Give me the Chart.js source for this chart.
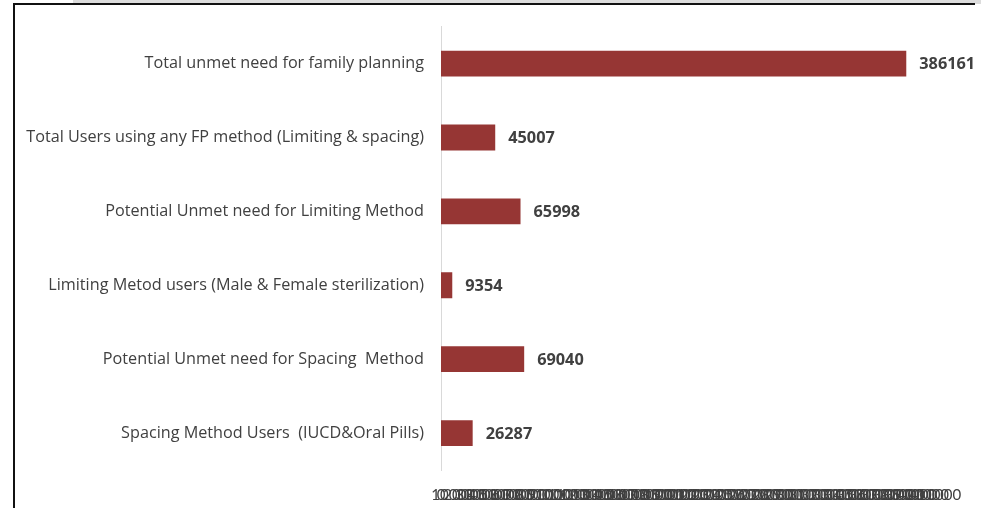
<!DOCTYPE html>
<html>
<head>
<meta charset="utf-8">
<script src="https://cdn.jsdelivr.net/npm/chart.js@4"></script>
<style>
html,body{margin:0;padding:0;background:#fff;}
#wrap{position:relative;width:996px;height:508px;overflow:hidden;}
#c{position:absolute;left:0;top:0;}
.gb{position:absolute;left:73px;top:0;width:908px;height:4px;background:#dcdcdc;}
.tl{position:absolute;left:13px;top:3px;width:962px;height:2px;background:#111;}
.ll{position:absolute;left:13px;top:3px;width:2px;height:505px;background:#111;}
</style>
</head>
<body>
<div id="wrap">
<canvas id="c" width="996" height="508"></canvas>
<div class="gb"></div><div class="tl"></div><div class="ll"></div>
</div>
<script>
const categories = [
  "Total unmet need for family planning",
  "Total Users using any FP method (Limiting & spacing)",
  "Potential Unmet need for Limiting Method",
  "Limiting Metod users (Male & Female sterilization)",
  "Potential Unmet need for Spacing  Method",
  "Spacing Method Users  (IUCD&Oral Pills)"
];
const values = [386161, 45007, 65998, 9354, 69040, 26287];
const axisMin = 0;
const axisMax = 410000;
const axisStep = 10000;

const FONT = "'Open Sans', sans-serif";

const valueLabels = {
  id: 'valueLabels',
  afterDatasetsDraw(chart) {
    const ctx = chart.ctx;
    const meta = chart.getDatasetMeta(0);
    ctx.save();
    ctx.font = "bold 16.3px " + FONT;
    ctx.fillStyle = "#404040";
    ctx.textAlign = "left";
    ctx.textBaseline = "middle";
    meta.data.forEach((bar, i) => {
      ctx.fillText(String(values[i]), bar.x + 13, bar.y + 1);
    });
    ctx.restore();
  }
};

new Chart(document.getElementById('c'), {
  type: 'bar',
  data: {
    labels: categories,
    datasets: [{
      data: values,
      backgroundColor: '#963634',
      borderWidth: 0,
      barPercentage: 0.35,
      categoryPercentage: 1.0
    }]
  },
  options: {
    indexAxis: 'y',
    responsive: false,
    animation: false,
    devicePixelRatio: 1,
    layout: { padding: { top: 26, right: 61, bottom: 0, left: 0 } },
    plugins: { legend: { display: false }, tooltip: { enabled: false } },
    scales: {
      x: {
        min: axisMin, max: axisMax,
        grid: { display: false, drawTicks: false },
        border: { display: false },
        afterFit(s) { s.height = 38; },
        afterBuildTicks(s) {
          const t = [];
          for (let v = axisMin; v <= axisMax; v += axisStep) t.push({ value: v });
          s.ticks = t;
        },
        ticks: {
          autoSkip: false, maxRotation: 0, minRotation: 0,
          padding: 16,
          color: '#404040',
          font: { family: "Lato, sans-serif", size: 15 },
          callback: (v) => String(v)
        }
      },
      y: {
        grid: { display: false, drawTicks: false },
        border: { display: true, color: '#d9d9d9', width: 1 },
        afterFit(s) { s.width = 441; },
        ticks: {
          padding: 17,
          color: '#404040',
          font: { family: FONT, size: 16.2 }
        }
      }
    }
  },
  plugins: [valueLabels]
});
</script>
</body>
</html>
